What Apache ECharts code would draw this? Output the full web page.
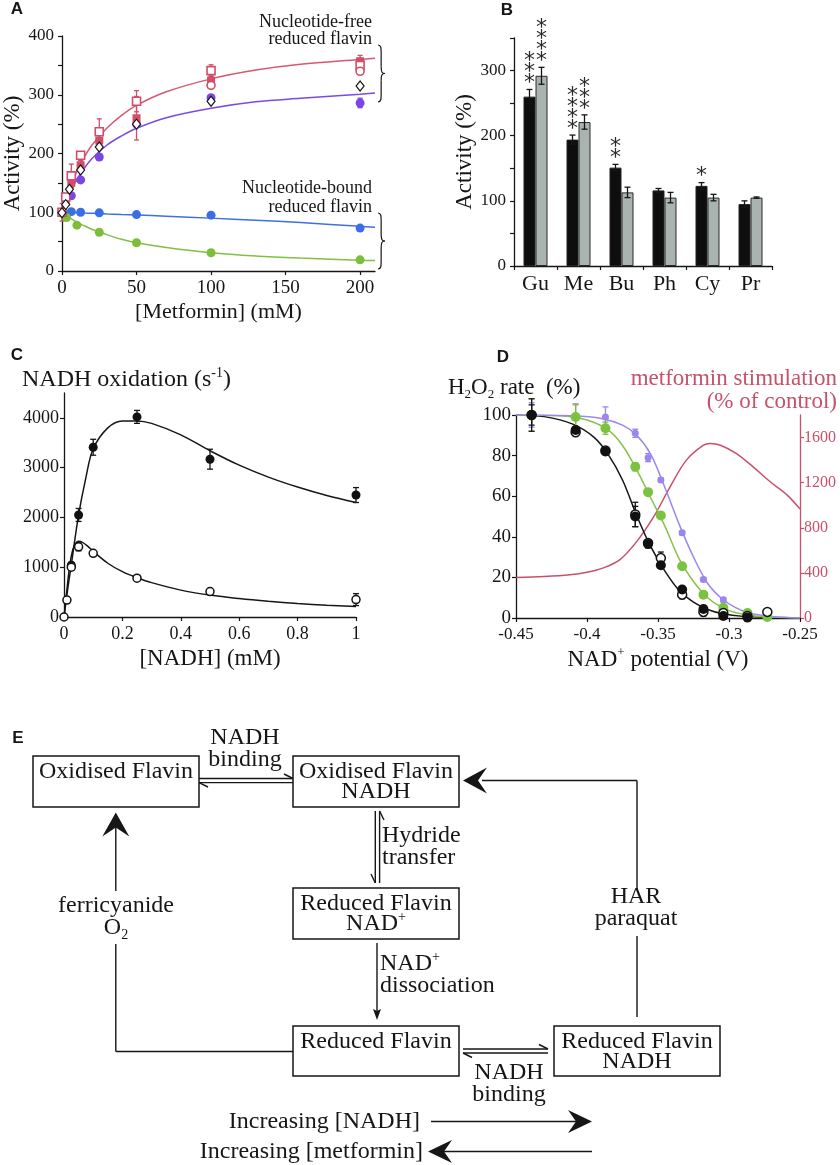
<!DOCTYPE html>
<html><head><meta charset="utf-8">
<script src="https://cdn.jsdelivr.net/npm/echarts@6/dist/echarts.min.js"></script>
<style>html,body{margin:0;padding:0;background:#fff}#c{width:840px;height:1165px}</style>
</head><body><div id="c"></div>
<script>
// ================= DATA =================
// ---- Panel A : activity vs [metformin] ----
const aCurveX    = [0,5,10,15,20,30,40,50,70,100,130,160,200,210];
const aRedFit    = [100,140,170,194,214,243,265,282,305,327,342,352,360,362];
const aPurpleFit = [100,132,156,175,191,214,230,243,261,277,288,294,301,303];
const aBlueFit   = [100,99.6,99.2,98.7,98.2,97.2,96.3,95.5,93.3,90,86.5,82.5,76,74.5];
const aGreenFit  = [100,91,83,77,71,62,54,48,40,31,25.5,22,18.5,18];
// [x, y, error]
const aRedOpenSq   = [[0,100,15],[2.5,126,6],[6.25,162,20],[12.5,197,6],[25,237,22],[50,289,18],[100,341,10],[200,350,12]];
const aRedFillSq   = [[0,100,0],[2.5,118,8],[6.25,150,6],[12.5,180,8],[25,222,10],[50,260,37],[100,324,8],[200,357,10]];
const aRedOpenCirc = [[100,316,0],[200,340,0]];
const aPurple      = [[0,100,0],[6.25,128,0],[12.5,155,0],[25,194,0],[50,250,0],[100,295,0],[200,286,8]];
const aDiamond     = [[0,99],[2.5,113],[5,139],[12.5,172],[25,211],[50,250],[100,289],[200,315]];
const aBlue        = [[0,100],[6.25,101],[12.5,100],[25,99],[50,96],[100,95],[200,73]];
const aGreen       = [[0,100],[3,91],[10,78],[25,66],[50,48],[100,31],[200,19]];
const aYTicks = [0,100,200,300,400];
const aNotes = [['Nucleotide-free','reduced flavin'],['Nucleotide-bound','reduced flavin']];

// ---- Panel B : bars ----
const bCats     = ['Gu','Me','Bu','Ph','Cy','Pr'];
const bBlack    = [260,194,151,116,123,95];
const bBlackErr = [11,7,5,3,5,5];
const bBlackSig = [3,4,2,0,1,0];
const bGray     = [292,221,113,105,105,105];
const bGrayErr  = [13,11,8,8,5,1];
const bGraySig  = [4,3,0,0,0,0];

// ---- Panel C : NADH oxidation ----
const cFilled = [[0.025,1040,60],[0.05,2050,130],[0.1,3410,160],[0.25,4020,130],[0.5,3170,200],[1,2450,150]];
const cOpen   = [[0,0,0],[0.01,340,0],[0.025,1000,60],[0.05,1410,80],[0.1,1280,0],[0.25,780,0],[0.5,510,0],[1,350,120]];
const cFilledFit = [[0,0],[0.01,450],[0.025,1050],[0.05,2050],[0.075,2800],[0.1,3380],[0.15,3800],[0.2,3940],[0.25,3940],[0.3,3890],[0.4,3660],[0.5,3340],[0.6,3050],[0.7,2810],[0.8,2610],[0.9,2440],[1,2300]];
const cOpenFit   = [[0,0],[0.01,550],[0.02,1050],[0.03,1350],[0.04,1480],[0.05,1520],[0.06,1510],[0.08,1430],[0.1,1320],[0.15,1080],[0.2,910],[0.25,790],[0.3,690],[0.4,540],[0.5,440],[0.6,370],[0.7,315],[0.8,270],[0.9,235],[1,210]];

// ---- Panel D : H2O2 rate vs NAD+ potential ----
const dBlackFilled = [[-0.439,100,5],[-0.408,92.6,1.5],[-0.387,82,1.5],[-0.366,50,5],[-0.357,36.5,2],[-0.348,26,1.5],[-0.333,14,1.5],[-0.318,4.4,1.5],[-0.304,1,1.5],[-0.287,0.3,2]];
const dBlackOpen   = [[-0.439,100,8],[-0.408,91.5,1],[-0.387,82.5,1],[-0.366,51,6],[-0.357,37,1],[-0.348,29.5,3],[-0.333,11.5,2],[-0.318,3,2],[-0.304,2.5,1],[-0.287,1,1],[-0.273,3,1]];
const dGreen       = [[-0.439,100,8],[-0.408,99,6],[-0.387,93.5,3],[-0.366,74.5,2],[-0.357,62,1.5],[-0.348,50.5,1],[-0.333,25.5,1],[-0.318,11.5,1],[-0.304,5,1],[-0.287,2.5,1],[-0.273,0.5,0.5]];
const dPurple      = [[-0.439,100,6],[-0.408,99.5,6],[-0.387,99,5],[-0.366,91,2],[-0.357,79,2],[-0.348,68,1],[-0.333,42,1],[-0.318,19,1],[-0.304,9,1],[-0.287,2.5,1],[-0.273,0.5,0.5]];
const dBlackFit  = [[-0.45,100],[-0.43,99.2],[-0.41,95.5],[-0.395,89],[-0.385,80.5],[-0.375,68],[-0.365,50.5],[-0.355,35],[-0.345,23],[-0.335,13.5],[-0.325,7.8],[-0.315,4.2],[-0.305,2.2],[-0.29,0.8],[-0.27,0.2],[-0.25,0]];
const dGreenFit  = [[-0.45,100],[-0.42,99.6],[-0.40,97.5],[-0.385,92.5],[-0.375,85],[-0.365,73],[-0.355,59],[-0.345,45],[-0.335,29],[-0.325,18],[-0.315,10],[-0.305,5.2],[-0.295,2.6],[-0.28,0.9],[-0.26,0.2],[-0.25,0]];
const dPurpleFit = [[-0.45,100],[-0.41,99.6],[-0.39,98.3],[-0.375,95],[-0.365,90],[-0.355,80.5],[-0.345,64],[-0.335,46],[-0.325,30],[-0.315,17],[-0.305,9.5],[-0.295,5],[-0.285,2.3],[-0.27,0.7],[-0.25,0]];
const dStimFit   = [[-0.45,360],[-0.43,368],[-0.412,383],[-0.4,405],[-0.389,442],[-0.377,515],[-0.365,677],[-0.353,898],[-0.3415,1163],[-0.33,1400],[-0.318,1532],[-0.3134,1547],[-0.306,1532],[-0.295,1459],[-0.283,1340],[-0.271,1208],[-0.259,1090],[-0.25,966]];

// ---- Panel E : scheme text ----
const eBoxText  = [['Oxidised Flavin'],['Oxidised Flavin','NADH'],['Reduced Flavin','NAD+'],['Reduced Flavin'],['Reduced Flavin','NADH']];
const eStepText = [['NADH','binding'],['Hydride','transfer'],['NAD+','dissociation'],['NADH','binding'],['HAR','paraquat'],['ferricyanide','O2']];
const eTrendText = ['Increasing [NADH]','Increasing [metformin]'];
const panelLetters = ['A','B','C','D','E'];

// ================= STYLE / LAYOUT =================
const SERIF = 'Liberation Serif';
const INK = '#161616';
const RED = '#d24d68', PURPLE = '#7b45e8', BLUE = '#3b6de6', GREEN = '#7dbd3c';
const LAV = '#9a86ec', PINK = '#c9506b';
const plain = v => String(v);

function axis(grid, o) {
  const lab = Object.assign({fontFamily: SERIF, color: INK, fontSize: 18, margin: 8}, o.label || {});
  const line = Object.assign({color: INK, width: 1.3}, o.line || {});
  const a = {
    gridIndex: grid, type: o.type || 'value',
    axisLine: {show: true, onZero: false, lineStyle: line},
    axisTick: {show: true, length: 4, lineStyle: {color: line.color, width: 1.2}},
    splitLine: {show: false},
    axisLabel: lab
  };
  ['min','max','interval','position','name','nameLocation','nameGap','nameRotate','nameTextStyle','data','boundaryGap'].forEach(k => { if (o[k] !== undefined) a[k] = o[k]; });
  return a;
}

function errBars(xi, yi, data, color, cap, dx, z) {
  return {
    type: 'custom', xAxisIndex: xi, yAxisIndex: yi, data: data, silent: true, z: z || 2,
    renderItem: function (p, api) {
      const x = api.value(0), y = api.value(1), e = api.value(2);
      if (!(e > 0)) return;
      const t = api.coord([x, y + e]), b = api.coord([x, y - e]);
      const cx = t[0] + (dx || 0);
      const st = {stroke: color, lineWidth: 1.3};
      return {type: 'group', children: [
        {type: 'line', shape: {x1: cx, y1: t[1], x2: cx, y2: b[1]}, style: st},
        {type: 'line', shape: {x1: cx - cap, y1: t[1], x2: cx + cap, y2: t[1]}, style: st},
        {type: 'line', shape: {x1: cx - cap, y1: b[1], x2: cx + cap, y2: b[1]}, style: st}
      ]};
    }
  };
}

function barErr(vals, errs, sigs, dx) {
  const data = vals.map((v, i) => [i, v, errs[i], sigs[i]]);
  return {
    type: 'custom', xAxisIndex: 1, yAxisIndex: 1, data: data, silent: true, z: 5,
    renderItem: function (p, api) {
      const i = api.value(0), y = api.value(1), e = api.value(2), s = api.value(3);
      const t = api.coord([i, y + e]), b = api.coord([i, y - e]);
      const cx = t[0] + dx;
      const st = {stroke: INK, lineWidth: 1.3};
      const ch = [
        {type: 'line', shape: {x1: cx, y1: t[1], x2: cx, y2: b[1]}, style: st},
        {type: 'line', shape: {x1: cx - 3, y1: t[1], x2: cx + 3, y2: t[1]}, style: st},
        {type: 'line', shape: {x1: cx - 3, y1: b[1], x2: cx + 3, y2: b[1]}, style: st}
      ];
      for (let k = 0; k < s; k++) {
        ch.push({type: 'text', x: cx, y: t[1] - 6 - 11 * k,
          style: {text: '*', fontFamily: 'DejaVu Sans', fontSize: 22, fill: '#2a2a2a', align: 'center', verticalAlign: 'middle'}});
      }
      return {type: 'group', children: ch};
    }
  };
}

function fitLine(xi, yi, data, color) {
  return {type: 'line', xAxisIndex: xi, yAxisIndex: yi, data: data, smooth: 0.35, showSymbol: false, symbol: 'none',
    lineStyle: {color: color, width: 1.5}, silent: true, z: 1};
}
function dots(xi, yi, data, symbol, size, fill, border, bw) {
  return {type: 'scatter', xAxisIndex: xi, yAxisIndex: yi, data: data, symbol: symbol, symbolSize: size, silent: true, z: 4,
    itemStyle: {color: fill, borderColor: border || fill, borderWidth: bw || 0, opacity: 1}};
}

// rich-text helpers
const RICH = (size) => ({
  t: {fontFamily: SERIF, fontSize: size, lineHeight: size + 4, verticalAlign: 'middle', fill: INK, color: INK},
  sup: {fontFamily: SERIF, fontSize: Math.round(size * 0.58), lineHeight: size + 4, verticalAlign: 'top', fill: INK, color: INK},
  sub: {fontFamily: SERIF, fontSize: Math.round(size * 0.58), lineHeight: size + 4, verticalAlign: 'bottom', fill: INK, color: INK}
});
function richify(s) {
  if (s === 'NAD+') return '{t|NAD}{sup|+}';
  if (s === 'O2') return '{t|O}{sub|2}';
  return '{t|' + s + '}';
}
function T(x, y, s, size, align, color, extra) {
  const rich = RICH(size);
  if (color) { Object.keys(rich).forEach(k => { rich[k].fill = color; rich[k].color = color; }); }
  return Object.assign({type: 'text', x: x, y: y, silent: true,
    style: {text: richify(s), rich: rich, align: align || 'center', verticalAlign: 'middle', fontFamily: SERIF, fontSize: size}}, extra || {});
}
function L(x1, y1, x2, y2, w) {
  return {type: 'line', silent: true, shape: {x1, y1, x2, y2}, style: {stroke: INK, lineWidth: w || 1.4}};
}
function head(tx, ty, dir, len, hw, notch) {
  const pts = {
    right: [[tx, ty], [tx - len, ty - hw], [tx - len + notch, ty], [tx - len, ty + hw]],
    left:  [[tx, ty], [tx + len, ty - hw], [tx + len - notch, ty], [tx + len, ty + hw]],
    up:    [[tx, ty], [tx - hw, ty + len], [tx, ty + len - notch], [tx + hw, ty + len]],
    down:  [[tx, ty], [tx - hw, ty - len], [tx, ty - len + notch], [tx + hw, ty - len]]
  }[dir];
  return {type: 'polygon', silent: true, shape: {points: pts}, style: {fill: INK}};
}
function brace(x0, yt, yb, w) {
  const xm = x0 + w * 0.45, ym = (yt + yb) / 2, st = {stroke: INK, lineWidth: 1.2, fill: 'none'};
  return [
    {type: 'bezierCurve', silent: true, shape: {x1: x0, y1: yt, cpx1: xm, cpy1: yt, cpx2: xm, cpy2: yt + 3, x2: xm, y2: yt + 9}, style: st},
    {type: 'line', silent: true, shape: {x1: xm, y1: yt + 9, x2: xm, y2: ym - 7}, style: st},
    {type: 'bezierCurve', silent: true, shape: {x1: xm, y1: ym - 7, cpx1: xm, cpy1: ym - 1, cpx2: xm + 1, cpy2: ym, x2: x0 + w, y2: ym}, style: st},
    {type: 'bezierCurve', silent: true, shape: {x1: x0 + w, y1: ym, cpx1: xm + 1, cpy1: ym, cpx2: xm, cpy2: ym + 1, x2: xm, y2: ym + 7}, style: st},
    {type: 'line', silent: true, shape: {x1: xm, y1: ym + 7, x2: xm, y2: yb - 9}, style: st},
    {type: 'bezierCurve', silent: true, shape: {x1: xm, y1: yb - 9, cpx1: xm, cpy1: yb - 3, cpx2: xm, cpy2: yb, x2: x0, y2: yb}, style: st}
  ];
}

// ---------- Graphic elements ----------
const G = [];
const letterPos = [[17, 9], [507, 10], [17, 355], [503, 357], [18, 738]];
panelLetters.forEach((s, i) => G.push({type: 'text', x: letterPos[i][0], y: letterPos[i][1], silent: true,
  style: {text: s, fontFamily: 'Liberation Sans', fontWeight: 'bold', fontSize: 17, fill: INK, align: 'center', verticalAlign: 'middle'}}));
G.push(T(372, 22, aNotes[0][0], 18, 'right'), T(372, 39, aNotes[0][1], 18, 'right'));
G.push(T(372, 188, aNotes[1][0], 18, 'right'), T(372, 207, aNotes[1][1], 18, 'right'));
brace(378, 45, 102, 7).forEach(e => G.push(e));
brace(378, 213, 269, 7).forEach(e => G.push(e));
G.push({type: 'text', x: 22, y: 380, silent: true, style: {text: '{t|NADH oxidation (s}{sup|-1}{t|)}', rich: RICH(24), align: 'left', verticalAlign: 'middle'}});
G.push({type: 'text', x: 448, y: 388, silent: true, style: {text: '{t|H}{sub|2}{t|O}{sub|2}{t| rate  (%)}', rich: RICH(23), align: 'left', verticalAlign: 'middle'}});
G.push(T(837, 379, 'metformin stimulation', 23, 'right', PINK));
G.push(T(837, 402, '(% of control)', 23, 'right', PINK));

// ---------- Panel E scheme ----------
const eBoxRect = [[33, 756, 166, 51], [293, 756, 166, 51], [293, 888, 166, 51], [293, 1026, 166, 50], [554, 1026, 166, 50]];
eBoxRect.forEach((r, i) => {
  G.push({type: 'rect', silent: true, shape: {x: r[0], y: r[1], width: r[2], height: r[3]}, style: {fill: '#fff', stroke: INK, lineWidth: 1.5}});
  eBoxText[i].forEach((s, k) => G.push(T(r[0] + r[2] / 2, r[1] + 15.5 + 20.5 * k, s, 24, 'center')));
});
const stepPos = [[245, 737.5, 'center'], [382, 836, 'left'], [380, 964, 'left'], [509, 1073, 'center'], [636, 897, 'center'], [116, 906, 'center']];
eStepText.forEach((pair, i) => pair.forEach((s, k) => G.push(T(stepPos[i][0], stepPos[i][1] + 22 * k, s, 24, stepPos[i][2]))));
// B1 <-> B2 harpoons
G.push(L(199, 778.5, 293, 778.5), L(293, 778.5, 284, 774), L(199, 782.6, 293, 782.6), L(199, 782.6, 208, 787));
// B2 <-> B3 harpoons
G.push(L(375.3, 811, 375.3, 883), L(375.3, 883, 371, 874), L(379.6, 811, 379.6, 883), L(379.6, 811, 384, 820));
// B3 -> B4
G.push(L(377, 943, 377, 1012), head(377, 1020, 'down', 11, 4, 2));
// B4 <-> B5 harpoons
G.push(L(463, 1049, 548, 1049), L(548, 1049, 539, 1044.5), L(463, 1053, 548, 1053), L(463, 1053, 472, 1057.5));
// B5 -> B2 (HAR / paraquat)
G.push(L(637, 1017, 637, 936), L(637, 889, 637, 780.5), L(637, 780.5, 482, 780.5), head(463, 780.5, 'left', 24, 13, 9));
// B4 -> B1 (ferricyanide / O2)
G.push(L(293, 1051.5, 115.8, 1051.5), L(115.8, 1051.5, 115.8, 944), L(115.8, 891, 115.8, 826), head(115.8, 812.6, 'up', 24, 13.5, 9));
// trend arrows
G.push(T(420, 1121.5, eTrendText[0], 24, 'right'), L(431, 1121.5, 580, 1121.5, 1.6), head(592, 1121.5, 'right', 24, 11.5, 8));
G.push(T(423, 1151.5, eTrendText[1], 24, 'right'), L(440, 1151.5, 592, 1151.5, 1.6), head(428, 1151.5, 'left', 24, 11.5, 8));

// ================= OPTION =================
const option = {
  animation: false,
  backgroundColor: '#fff',
  textStyle: {fontFamily: SERIF},
  grid: [
    {left: 62, top: 36, width: 313, height: 235},
    {left: 514, top: 38, width: 258, height: 228},
    {left: 64, top: 393, width: 292, height: 224},
    {left: 516, top: 415, width: 284, height: 203}
  ],
  xAxis: [
    axis(0, {min: 0, max: 210, interval: 50, label: {fontSize: 19, margin: 8, showMaxLabel: false, formatter: plain},
      name: '[Metformin] (mM)', nameLocation: 'middle', nameGap: 30, nameTextStyle: {fontFamily: SERIF, fontSize: 22, color: INK}}),
    axis(1, {type: 'category', data: bCats, label: {fontSize: 22, margin: 7}}),
    axis(2, {min: 0, max: 1, interval: 0.2, label: {fontSize: 18, margin: 8, formatter: plain},
      name: '[NADH] (mM)', nameLocation: 'middle', nameGap: 30, nameTextStyle: {fontFamily: SERIF, fontSize: 23, color: INK}}),
    axis(3, {min: -0.45, max: -0.25, interval: 0.05, label: {fontSize: 17, margin: 8, formatter: v => String(Math.round(v * 100) / 100)},
      name: '{t|NAD}{sup|+}{t| potential (V)}', nameLocation: 'middle', nameGap: 28, nameTextStyle: {rich: RICH(23)}})
  ],
  yAxis: [
    axis(0, {min: 0, max: 400, interval: 50, label: {fontSize: 17, margin: 8, formatter: v => aYTicks.indexOf(v) >= 0 ? String(v) : ''},
      name: 'Activity (%)', nameLocation: 'middle', nameRotate: 90, nameGap: 38, nameTextStyle: {fontFamily: SERIF, fontSize: 23, color: INK}}),
    axis(1, {min: 0, max: 350, interval: 50, label: {fontSize: 17, margin: 8, formatter: v => v % 100 === 0 ? String(v) : ''},
      name: 'Activity (%)', nameLocation: 'middle', nameRotate: 90, nameGap: 33, nameTextStyle: {fontFamily: SERIF, fontSize: 23, color: INK}}),
    axis(2, {min: 0, max: 4500, interval: 1000, label: {fontSize: 18, margin: 5, showMaxLabel: false, formatter: plain}}),
    axis(3, {min: 0, max: 100, interval: 20, label: {fontSize: 19, margin: 5, formatter: plain}}),
    axis(3, {min: 0, max: 1800, interval: 400, position: 'right', line: {color: PINK}, label: {fontSize: 16, margin: 4, color: PINK, showMaxLabel: false, formatter: plain}})
  ],
  series: [
    // ---- A ----
    fitLine(0, 0, aCurveX.map((x, i) => [x, aRedFit[i]]), '#d65870'),
    fitLine(0, 0, aCurveX.map((x, i) => [x, aPurpleFit[i]]), '#7a4ae6'),
    fitLine(0, 0, aCurveX.map((x, i) => [x, aBlueFit[i]]), '#3f6fe4'),
    fitLine(0, 0, aCurveX.map((x, i) => [x, aGreenFit[i]]), '#82c042'),
    errBars(0, 0, aRedOpenSq, RED, 2.5, 0),
    errBars(0, 0, aRedFillSq, RED, 2.5, 0),
    errBars(0, 0, aPurple, PURPLE, 2.5, 0),
    dots(0, 0, aBlue, 'circle', 9, BLUE),
    dots(0, 0, aGreen, 'circle', 9, GREEN),
    dots(0, 0, aPurple, 'circle', 9, PURPLE),
    dots(0, 0, aRedFillSq, 'rect', 8, RED),
    dots(0, 0, aRedOpenSq, 'rect', 8, '#fff', RED, 1.6),
    dots(0, 0, aRedOpenCirc, 'circle', 8, '#fff', RED, 1.6),
    dots(0, 0, aDiamond, 'diamond', [8, 10], '#fff', INK, 1.2),
    // ---- B ----
    {type: 'bar', xAxisIndex: 1, yAxisIndex: 1, data: bBlack, barWidth: 12, barGap: '0%', silent: true,
      itemStyle: {color: '#0e0e0e', borderColor: '#222', borderWidth: 1}},
    {type: 'bar', xAxisIndex: 1, yAxisIndex: 1, data: bGray, barWidth: 12, barGap: '0%', silent: true,
      itemStyle: {color: '#a9b3b0', borderColor: '#2a2a2a', borderWidth: 1}},
    barErr(bBlack, bBlackErr, bBlackSig, -6),
    barErr(bGray, bGrayErr, bGraySig, 6),
    // ---- C ----
    fitLine(2, 2, cFilledFit, INK),
    fitLine(2, 2, cOpenFit, INK),
    errBars(2, 2, cFilled, INK, 3, 0),
    errBars(2, 2, cOpen, INK, 3, 0),
    dots(2, 2, cFilled, 'circle', 9, '#111'),
    dots(2, 2, cOpen, 'circle', 8, '#fff', '#111', 1.5),
    // ---- D ----
    fitLine(3, 4, dStimFit, PINK),
    fitLine(3, 3, dBlackFit, INK),
    fitLine(3, 3, dGreenFit, '#86c24a'),
    fitLine(3, 3, dPurpleFit, '#9a88ee'),
    errBars(3, 3, dPurple, LAV, 3, 0),
    errBars(3, 3, dGreen, GREEN, 3, 0),
    errBars(3, 3, dBlackOpen, INK, 3, 0),
    errBars(3, 3, dBlackFilled, INK, 3, 0),
    dots(3, 3, dPurple, 'circle', 7, LAV),
    dots(3, 3, dGreen, 'circle', 10, '#7cc242'),
    dots(3, 3, dBlackOpen, 'circle', 9, '#fff', '#111', 1.5),
    dots(3, 3, dBlackFilled, 'circle', 10, '#111')
  ],
  graphic: {elements: G}
};

const chart = echarts.init(document.getElementById('c'), null, {renderer: 'canvas'});
chart.setOption(option);
</script>
</body></html>
